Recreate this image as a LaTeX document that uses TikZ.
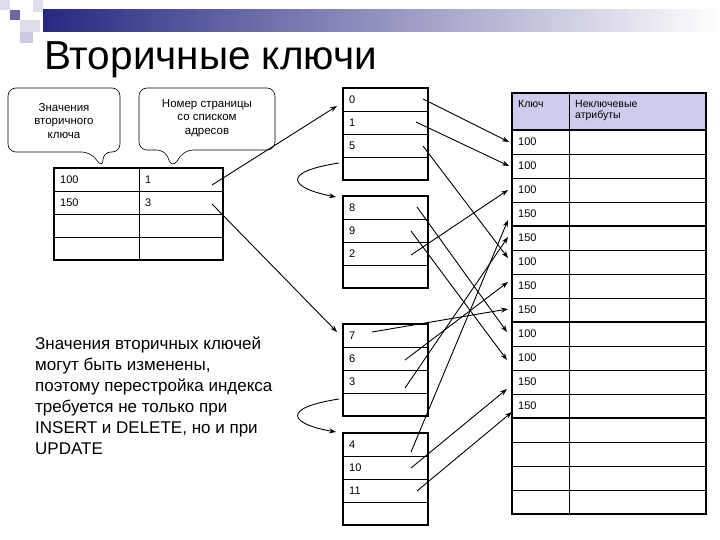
\documentclass[tikz,border=0pt]{standalone}
\usepackage{fontspec}
\setmainfont{Liberation Sans}
\usetikzlibrary{arrows.meta}
\definecolor{hdr}{RGB}{204,204,236}
\definecolor{navy}{RGB}{40,40,130}
\tikzset{
  txt/.style={font=\fontsize{11}{12}\selectfont,anchor=west,inner sep=0pt},
  arr/.style={-{Stealth[length=7pt,width=5pt]},line width=0.9pt},
  box/.style={draw,line width=1.5pt},
  calltxt/.style={align=center,font=\fontsize{11.5}{13.5}\selectfont}
}
\begin{document}
\begin{tikzpicture}[x=1pt,y=-1pt]
\useasboundingbox (0,0) rectangle (720,540);
% decoration
\shade[left color=navy,right color=white] (43,10) rectangle (720,32);
\fill[navy!70] (10,10) rectangle (20,20);
\fill[navy!15] (0,0) rectangle (10,10);
\fill[navy!15] (20,20) rectangle (40,32);
\fill[navy!25] (20,32) rectangle (33,43);
\fill[navy!15] (33,0) rectangle (43,12);
\node[anchor=west,font=\fontsize{40.5}{42}\selectfont,inner sep=0pt] (title) at (44,60) {Вторичные ключи};
% left table
\foreach \r in {0,...,3}{
  \draw[line width=0.6pt] (54,168+23*\r) -- (223,168+23*\r);
}
\draw[box] (54,168) rectangle (223,260);
\draw[line width=0.6pt] (139,168) -- (139,260);
\node[txt] (k1) at (60,179.5) {100};
\node[txt] (k2) at (60,202.5) {150};
\node[txt] (p1) at (145,179.5) {1};
\node[txt] (p2) at (145,202.5) {3};
\coordinate (s1) at (212,185);
\coordinate (s2) at (212,204);
% callouts
\draw[line width=0.6pt,fill=white,rounded corners=8pt] (8,88) -- (120,88) -- (120,152) -- (103,152) -- (103,168) -- (90,152) -- (8,152) -- cycle;
\node[calltxt] (c1) at (64,121) {Значения\\вторичного\\ключа};
\draw[line width=0.6pt,fill=white,rounded corners=8pt] (139,88) -- (275,88) -- (275,150) -- (185,150) -- (172,168) -- (165,150) -- (139,150) -- cycle;
\node[calltxt] (c2) at (207,118) {Номер страницы\\со списком\\адресов};
% page blocks
\foreach \y/\a/\b/\c [count=\i] in {88/0/1/5,196/8/9/2,324/7/6/3,433/4/10/11}{
  \foreach \r in {1,2,3}{\draw[line width=0.6pt] (343,\y+23*\r) -- (428,\y+23*\r);}
  \draw[box] (343,\y) rectangle (428,\y+92);
  \node[txt] (b\i a) at (349,\y+11.5) {\a};
  \node[txt] (b\i b) at (349,\y+34.5) {\b};
  \node[txt] (b\i c) at (349,\y+57.5) {\c};
}
% right table
\fill[hdr] (512,93) rectangle (706,130);
\foreach \r in {1,...,16}{\draw[line width=0.6pt] (512,130+24*\r) -- (706,130+24*\r);}
\draw[box] (512,130) -- (706,130);
\draw[box] (512,226) -- (706,226);
\draw[box] (512,322) -- (706,322);
\draw[box] (512,418) -- (706,418);
\draw[box] (512,93) rectangle (706,514);
\draw[line width=0.6pt] (569,93) -- (569,514);
\node[txt,anchor=north west,font=\fontsize{10.5}{11}\selectfont] (h1) at (518,100) {Ключ};
\node[txt,anchor=north west,align=left,font=\fontsize{10.5}{11.5}\selectfont] (h2) at (575,100) {Неключевые\\атрибуты};
\foreach \v [count=\i] in {100,100,100,150,150,100,150,150,100,100,150,150}{
  \node[txt] (r\i) at (518,130+24*\i-12) {\v};
  \coordinate (t\i) at (509,130+24*\i-12);
}
% text
\node[anchor=north west,align=left,font=\fontsize{17}{21}\selectfont,inner sep=0pt] (note) at (35,337) {Значения вторичных ключей\\могут быть изменены,\\поэтому перестройка индекса\\требуется не только при\\INSERT и DELETE, но и при\\UPDATE};
% arrows from index
\draw[arr] (s1) -- (337,106);
\draw[arr] (s2) -- (337,332);
% chain arrows
\draw[arr] (339,163) .. controls (280,172) and (290,188) .. (336,197);
\draw[arr] (339,399) .. controls (280,408) and (290,424) .. (336,432);
% page to rows
\draw[arr] (423,99) -- (t1);
\draw[arr] (416,122) -- (t2);
\draw[arr] (423,146) -- (508,258);
\draw[arr] (417,207) -- (507,332);
\draw[arr] (411,231) -- (507,360);
\draw[arr] (411,255) -- (508,190);
\draw[arr] (372,332) -- (508,309);
\draw[arr] (405,360) -- (508,282);
\draw[arr] (405,388) -- (508,237);
\draw[arr] (411,452) -- (508,220);
\draw[arr] (411,468) -- (507,389);
\draw[arr] (417,491) -- (512,412);
\end{tikzpicture}
\end{document}
